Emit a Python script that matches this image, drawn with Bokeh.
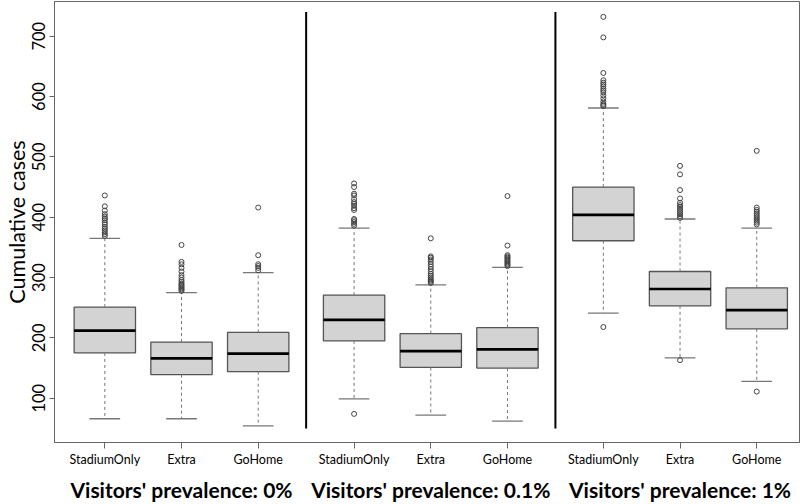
from bokeh.plotting import figure
from bokeh.models import Range1d, FixedTicker, LinearAxis
from bokeh.embed import file_html
from bokeh.resources import INLINE

# ---- data ----
groups = ["Visitors' prevalence: 0%", "Visitors' prevalence: 0.1%", "Visitors' prevalence: 1%"]
scenarios = ["StadiumOnly", "Extra", "GoHome"]

lower_whisker = [66, 66, 54, 99, 72, 62, 241, 167, 128]
q1 = [175, 139, 144, 195, 151, 150, 361, 253, 215]
median = [212, 166, 174, 230, 178, 181, 404, 281, 246]
q3 = [251, 193, 209, 271, 207, 217, 450, 310, 283]
upper_whisker = [365, 275, 308, 382, 288, 317, 581, 397, 382]

outliers = [
    [369, 372, 375, 378, 381, 384, 388, 391, 395, 398, 401, 405, 411, 418, 436],
    [278, 280, 282, 284, 286, 288, 290, 293, 296, 300, 304, 310, 316, 322, 326, 354],
    [312, 316, 319, 322, 337, 416],
    [74, 386, 389, 392, 395, 397, 412, 415, 419, 422, 425, 430, 436, 439, 450, 456],
    [291, 293, 295, 297, 300, 303, 306, 310, 314, 318, 322, 326, 330, 333, 335, 365],
    [319, 321, 323, 325, 327, 329, 331, 333, 335, 337, 353, 435],
    [218, 584, 586, 588, 592, 597, 602, 607, 610, 613, 617, 620, 623, 627, 639, 698, 732],
    [163, 399, 402, 405, 408, 411, 414, 417, 420, 424, 431, 445, 471, 485],
    [111, 388, 391, 394, 397, 400, 403, 406, 409, 412, 416, 510],
]
y_ticks = [100, 200, 300, 400, 500, 600, 700]

# ---- layout of categories on the x axis ----
STEP, GAP = 4, 13
pos = []
for g in range(len(groups)):
    for j in range(len(scenarios)):
        pos.append(STEP * (j + 1) + GAP * g)
group_centers = [STEP * 2 + GAP * g for g in range(len(groups))]
separators = [STEP * 3 + GAP * g + 2.5 for g in range(len(groups) - 1)]
BOX_W = 0.8 * STEP
CAP_W = 0.4 * STEP

FONT = "Lato"

p = figure(width=800, height=504, output_backend="svg", toolbar_location=None,
           x_range=Range1d(1.376, 40.23), y_range=Range1d(26.6, 757.5),
           min_border_left=53, min_border_right=1, min_border_top=1, min_border_bottom=62)
p.grid.visible = False
p.outline_line_color = "#666666"
p.outline_line_width = 1
p.background_fill_color = "white"
p.border_fill_color = "white"

# boxes
p.vbar(x=pos, bottom=q1, top=q3, width=BOX_W, fill_color="#d3d3d3",
       line_color="#555555", line_width=1.3)
# whiskers
p.segment(x0=pos, y0=q3, x1=pos, y1=upper_whisker, line_color="#777777",
          line_width=1, line_dash="3 3")
p.segment(x0=pos, y0=q1, x1=pos, y1=lower_whisker, line_color="#777777",
          line_width=1, line_dash="3 3")
# caps
p.segment(x0=[x - CAP_W / 2 for x in pos], y0=upper_whisker,
          x1=[x + CAP_W / 2 for x in pos], y1=upper_whisker, line_color="#777777", line_width=1.3)
p.segment(x0=[x - CAP_W / 2 for x in pos], y0=lower_whisker,
          x1=[x + CAP_W / 2 for x in pos], y1=lower_whisker, line_color="#777777", line_width=1.3)
# medians
p.segment(x0=[x - BOX_W / 2 for x in pos], y0=median,
          x1=[x + BOX_W / 2 for x in pos], y1=median, line_color="black", line_width=2.7)
# outliers
ox, oy = [], []
for x, vals in zip(pos, outliers):
    for v in vals:
        ox.append(x)
        oy.append(v)
p.scatter(ox, oy, marker="circle", size=5, fill_color=None, line_color="#444444", line_width=1)

# group separators
p.segment(x0=separators, y0=[50] * len(separators), x1=separators, y1=[740] * len(separators),
          line_color="black", line_width=2)

# y axis
ya = p.yaxis[0]
ya.ticker = FixedTicker(ticks=y_ticks)
ya.major_label_orientation = "parallel"
ya.major_label_text_font = FONT
ya.major_label_text_font_size = "16.5px"
ya.major_label_text_color = "black"
ya.major_label_standoff = 4
ya.major_tick_out = 5
ya.major_tick_in = 0
ya.minor_tick_line_color = None
ya.axis_line_color = "#666666"
ya.major_tick_line_color = "#666666"
ya.axis_label = "Cumulative cases"
ya.axis_label_text_font = FONT
ya.axis_label_text_font_size = "21.5px"
ya.axis_label_text_font_style = "normal"
ya.axis_label_text_color = "black"
ya.axis_label_standoff = 0

# x axis (scenario labels)
xa = p.xaxis[0]
xa.ticker = FixedTicker(ticks=pos)
xa.major_label_overrides = {x: s for x, s in zip(pos, scenarios * len(groups))}
xa.major_label_text_font = FONT
xa.major_label_text_font_size = "12.5px"
xa.major_label_text_color = "black"
xa.major_label_standoff = 3
xa.major_tick_out = 6
xa.major_tick_in = 0
xa.minor_tick_line_color = None
xa.axis_line_color = "#666666"
xa.major_tick_line_color = "#666666"

# second x axis (group labels)
ga = LinearAxis(ticker=FixedTicker(ticks=group_centers),
                major_label_overrides={x: s for x, s in zip(group_centers, groups)})
ga.major_label_text_font = FONT
ga.major_label_text_font_size = "21px"
ga.major_label_text_font_style = "bold"
ga.major_label_text_color = "black"
ga.major_label_standoff = 7
ga.major_tick_line_color = None
ga.major_tick_out = 0
ga.minor_tick_line_color = None
ga.axis_line_color = None
p.add_layout(ga, "below")

open("out.html", "w").write(file_html(p, INLINE))
